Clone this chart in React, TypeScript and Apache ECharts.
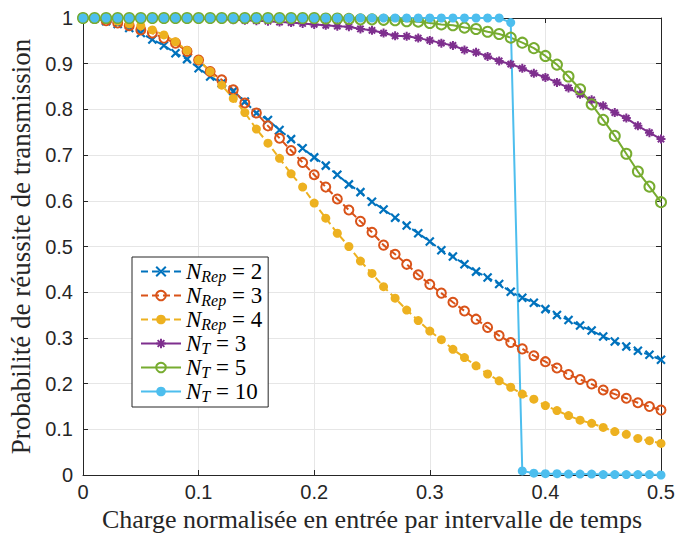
import React, { useEffect, useRef } from 'react';
import * as echarts from 'echarts';

// Charge normalisée (x) — 51 points de 0 à 0.5
const xValues = [
  0, 0.01, 0.02, 0.03, 0.04, 0.05, 0.06, 0.07, 0.08, 0.09,
  0.1, 0.11, 0.12, 0.13, 0.14, 0.15, 0.16, 0.17, 0.18, 0.19,
  0.2, 0.21, 0.22, 0.23, 0.24, 0.25, 0.26, 0.27, 0.28, 0.29,
  0.3, 0.31, 0.32, 0.33, 0.34, 0.35, 0.36, 0.37, 0.38, 0.39,
  0.4, 0.41, 0.42, 0.43, 0.44, 0.45, 0.46, 0.47, 0.48, 0.49, 0.5,
];

const nRep2 = [
  1.000, 0.999, 0.993, 0.987, 0.978, 0.967, 0.953, 0.940, 0.923, 0.910,
  0.890, 0.872, 0.857, 0.840, 0.817, 0.792, 0.777, 0.755, 0.735, 0.715,
  0.695, 0.677, 0.657, 0.636, 0.619, 0.598, 0.581, 0.563, 0.546, 0.529,
  0.511, 0.492, 0.478, 0.461, 0.445, 0.432, 0.418, 0.401, 0.388, 0.377,
  0.363, 0.350, 0.339, 0.327, 0.316, 0.303, 0.292, 0.281, 0.272, 0.263, 0.252,
];

const nRep3 = [
  1.000, 0.999, 0.994, 0.989, 0.983, 0.974, 0.967, 0.956, 0.945, 0.927,
  0.908, 0.883, 0.865, 0.843, 0.814, 0.792, 0.764, 0.737, 0.710, 0.684,
  0.657, 0.630, 0.604, 0.580, 0.555, 0.531, 0.503, 0.483, 0.461, 0.438,
  0.417, 0.398, 0.378, 0.359, 0.341, 0.323, 0.305, 0.290, 0.276, 0.261,
  0.248, 0.234, 0.220, 0.209, 0.199, 0.186, 0.177, 0.168, 0.158, 0.150, 0.142,
];

const nRep4 = [
  1.000, 0.999, 0.997, 0.993, 0.987, 0.983, 0.974, 0.963, 0.948, 0.929,
  0.908, 0.883, 0.853, 0.824, 0.793, 0.757, 0.726, 0.693, 0.659, 0.630,
  0.595, 0.562, 0.529, 0.500, 0.468, 0.441, 0.412, 0.387, 0.361, 0.338,
  0.315, 0.296, 0.275, 0.257, 0.239, 0.221, 0.206, 0.192, 0.177, 0.166,
  0.152, 0.141, 0.130, 0.120, 0.113, 0.104, 0.095, 0.089, 0.080, 0.075, 0.069,
];

const nT3 = [
  1.000, 1.000, 1.000, 1.000, 1.000, 1.000, 1.000, 1.000, 1.000, 0.999,
  0.999, 0.998, 0.997, 0.996, 0.995, 0.994, 0.993, 0.991, 0.990, 0.988,
  0.986, 0.984, 0.982, 0.981, 0.976, 0.973, 0.967, 0.961, 0.960, 0.956,
  0.951, 0.945, 0.940, 0.930, 0.925, 0.916, 0.906, 0.899, 0.890, 0.879,
  0.870, 0.859, 0.847, 0.833, 0.821, 0.808, 0.793, 0.781, 0.764, 0.749, 0.735,
];

const nT5 = [
  1.000, 1.000, 1.000, 1.000, 1.000, 1.000, 1.000, 1.000, 1.000, 1.000,
  1.000, 1.000, 1.000, 1.000, 1.000, 1.000, 1.000, 1.000, 1.000, 1.000,
  1.000, 0.999, 0.999, 0.998, 0.997, 0.997, 0.996, 0.995, 0.993, 0.992,
  0.989, 0.986, 0.984, 0.979, 0.976, 0.970, 0.965, 0.957, 0.946, 0.934,
  0.917, 0.898, 0.872, 0.844, 0.811, 0.777, 0.742, 0.703, 0.664, 0.631, 0.597,
];

const nT10 = [
  1.000, 1.000, 1.000, 1.000, 1.000, 1.000, 1.000, 1.000, 1.000, 1.000,
  1.000, 1.000, 1.000, 1.000, 1.000, 1.000, 1.000, 1.000, 1.000, 1.000,
  1.000, 1.000, 1.000, 1.000, 1.000, 1.000, 1.000, 1.000, 1.000, 1.000,
  1.000, 1.000, 1.000, 1.000, 1.000, 1.000, 1.000, 0.990, 0.009, 0.004,
  0.003, 0.003, 0.002, 0.002, 0.002, 0.001, 0.001, 0.001, 0.001, 0.001, 0.000,
];

const xTickLabels = ['0', '0.1', '0.2', '0.3', '0.4', '0.5'];
const yTickLabels = ['0', '0.1', '0.2', '0.3', '0.4', '0.5', '0.6', '0.7', '0.8', '0.9', '1'];

const seriesNames = ['NRep2', 'NRep3', 'NRep4', 'NT3', 'NT5', 'NT10'];
const legendSubs = ['Rep', 'Rep', 'Rep', 'T', 'T', 'T'];
const legendValues = ['2', '3', '4', '3', '5', '10'];

const xTitle = 'Charge normalisée en entrée par intervalle de temps';
const yTitle = 'Probabilité de réussite de transmission';

const C_BLUE = '#0072BD';
const C_ORANGE = '#D95319';
const C_YELLOW = '#EDB120';
const C_PURPLE = '#7E2F8E';
const C_GREEN = '#77AC30';
const C_CYAN = '#4DBEEE';
const AXIS = '#262626';

const X_SYMBOL = 'path://M0,0L10,10M10,0L0,10';
const STAR_SYMBOL = 'path://M0,5L10,5M5,0L5,10M1.5,1.5L8.5,8.5M8.5,1.5L1.5,8.5';

function pairs(ys: number[]) {
  return xValues.map((x, i) => [x, ys[i]]);
}

export default function App() {
  const ref = useRef<HTMLDivElement>(null);

  useEffect(() => {
    if (!ref.current) return;
    const chart = echarts.init(ref.current, undefined, { renderer: 'svg' });

    const tickFont = { fontFamily: 'Liberation Sans', fontSize: 20, color: AXIS };
    const xNameFont = { fontFamily: 'Liberation Serif', fontSize: 26, color: AXIS };
    const yNameFont = { fontFamily: 'Liberation Serif', fontSize: 27, color: AXIS };

    const baseAxisLine = { show: true, onZero: false, lineStyle: { color: AXIS, width: 1 } };
    const baseTick = { show: true, inside: true, length: 5, lineStyle: { color: AXIS, width: 1 } };

    const mk = (
      idx: number,
      data: number[],
      color: string,
      dashed: boolean,
      symbol: string,
      symbolSize: number,
      itemStyle: any
    ) => ({
      name: seriesNames[idx],
      type: 'line',
      data: pairs(data),
      xAxisIndex: 0,
      yAxisIndex: 0,
      symbol,
      symbolSize,
      showAllSymbol: true,
      clip: false,
      color,
      lineStyle: { color, width: 2, type: dashed ? [7, 4] : 'solid' },
      itemStyle,
      emphasis: { disabled: true },
    });

    const option: any = {
      animation: false,
      backgroundColor: '#ffffff',
      grid: {
        left: 83,
        right: 16,
        top: 18,
        bottom: 58,
        containLabel: false,
        outerBoundsMode: 'none',
      },
      xAxis: [
        {
          type: 'value',
          min: 0,
          max: 0.5,
          interval: 0.1,
          position: 'bottom',
          axisLine: baseAxisLine,
          axisTick: baseTick,
          axisLabel: {
            ...tickFont,
            margin: 7,
            formatter: (v: number) => xTickLabels[Math.round(v / 0.1)] ?? '',
          },
          splitLine: { show: true, lineStyle: { color: '#e6e6e6', width: 1 } },
          name: xTitle,
          nameLocation: 'middle',
          nameGap: 24,
          nameTextStyle: xNameFont,
        },
        {
          type: 'value',
          min: 0,
          max: 0.5,
          interval: 0.1,
          position: 'top',
          axisLine: baseAxisLine,
          axisTick: baseTick,
          axisLabel: { show: false },
          splitLine: { show: false },
        },
      ],
      yAxis: [
        {
          type: 'value',
          min: 0,
          max: 1,
          interval: 0.1,
          position: 'left',
          axisLine: baseAxisLine,
          axisTick: baseTick,
          axisLabel: {
            ...tickFont,
            margin: 10,
            formatter: (v: number) => yTickLabels[Math.round(v / 0.1)] ?? '',
          },
          splitLine: { show: true, lineStyle: { color: '#e6e6e6', width: 1 } },
          name: yTitle,
          nameLocation: 'middle',
          nameRotate: 90,
          nameGap: 47,
          nameTextStyle: yNameFont,
        },
        {
          type: 'value',
          min: 0,
          max: 1,
          interval: 0.1,
          position: 'right',
          axisLine: baseAxisLine,
          axisTick: baseTick,
          axisLabel: { show: false },
          splitLine: { show: false },
        },
      ],
      legend: {
        orient: 'vertical',
        left: 132,
        top: 257,
        padding: [3, 6, 3, 8],
        itemWidth: 40,
        itemHeight: 12,
        itemGap: 0,
        backgroundColor: '#ffffff',
        borderColor: AXIS,
        borderWidth: 1,
        borderRadius: 0,
        selectedMode: false,
        data: seriesNames,
        formatter: (name: string) => {
          const i = seriesNames.indexOf(name);
          return `{n|N}{s|${legendSubs[i]}}{e| = ${legendValues[i]}}`;
        },
        textStyle: {
          color: '#000',
          rich: {
            n: {
              fontFamily: 'Liberation Serif',
              fontStyle: 'italic',
              fontSize: 23,
              lineHeight: 25,
              color: '#000',
            },
            s: {
              fontFamily: 'Liberation Serif',
              fontStyle: 'italic',
              fontSize: 16,
              lineHeight: 10,
              verticalAlign: 'bottom',
              color: '#000',
            },
            e: {
              fontFamily: 'Liberation Serif',
              fontSize: 23,
              lineHeight: 25,
              color: '#000',
            },
          },
        },
      },
      series: [
        mk(0, nRep2, C_BLUE, true, X_SYMBOL, 8, { color: C_BLUE, borderColor: C_BLUE, borderWidth: 2.2 }),
        mk(1, nRep3, C_ORANGE, true, 'circle', 9, { color: 'rgba(0,0,0,0)', borderColor: C_ORANGE, borderWidth: 2 }),
        mk(2, nRep4, C_YELLOW, true, 'circle', 9, { color: C_YELLOW, borderColor: C_YELLOW, borderWidth: 0 }),
        mk(3, nT3, C_PURPLE, false, STAR_SYMBOL, 9, { color: C_PURPLE, borderColor: C_PURPLE, borderWidth: 2 }),
        mk(4, nT5, C_GREEN, false, 'circle', 10, { color: 'rgba(0,0,0,0)', borderColor: C_GREEN, borderWidth: 2 }),
        mk(5, nT10, C_CYAN, false, 'circle', 9, { color: C_CYAN, borderColor: C_CYAN, borderWidth: 0 }),
      ],
    };

    chart.setOption(option);
    return () => {
      chart.dispose();
    };
  }, []);

  return (
    <div
      ref={ref}
      style={{ position: 'absolute', left: 0, top: 0, width: 677, height: 533 }}
    />
  );
}
